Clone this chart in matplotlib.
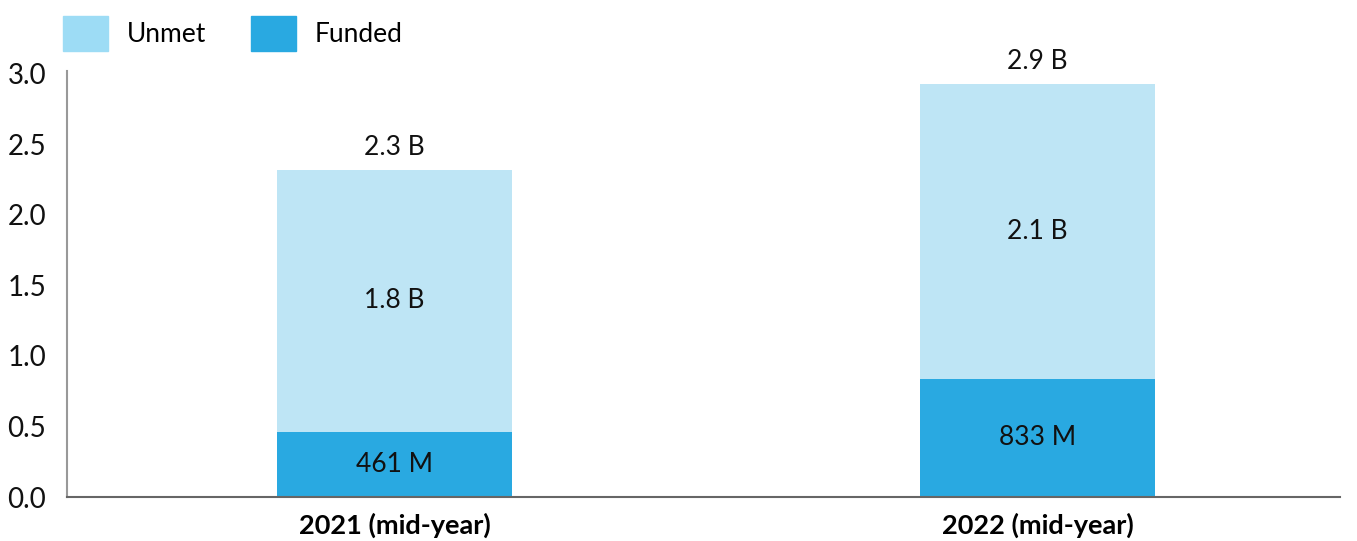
import matplotlib.pyplot as plt
from matplotlib.patches import Patch

plt.rcParams['font.family'] = ['Lato', 'DejaVu Sans']

years = ['2021 (mid-year)', '2022 (mid-year)']
funded = [0.461, 0.837]
unmet = [1.86, 2.09]
funded_labels = ['461 M', '833 M']
unmet_labels = ['1.8 B', '2.1 B']
total_labels = ['2.3 B', '2.9 B']

c_unmet = '#bee5f5'
c_funded = '#29a9e1'
c_unmet_leg = '#9ddcf5'

fig = plt.figure(figsize=(13.57, 5.41), dpi=100)
ax = fig.add_axes([0.0494, 0.0813, 0.9381, 0.7875])

x = [0, 1]
w = 0.365
ax.bar(x, funded, width=w, color=c_funded, zorder=2)
ax.bar(x, unmet, width=w, bottom=funded, color=c_unmet, zorder=2)

for i in range(len(x)):
    f = funded[i]
    u = unmet[i]
    ax.text(x[i], f / 2, funded_labels[i], ha='center', va='center', fontsize=19, color='#111111')
    ax.text(x[i], f + u / 2, unmet_labels[i], ha='center', va='center', fontsize=19, color='#111111')
    ax.annotate(total_labels[i], (x[i], f + u), xytext=(0, 16), textcoords='offset points',
                ha='center', va='center', fontsize=19, color='#111111')

ax.set_xlim(-0.509, 1.47)
ax.set_ylim(0, 3.02)
ax.set_yticks([0, 0.5, 1.0, 1.5, 2.0, 2.5, 3.0])
ax.set_yticklabels(['0.0', '0.5', '1.0', '1.5', '2.0', '2.5', '3.0'], fontsize=20)
ax.set_xticks(x)
ax.set_xticklabels(years, fontsize=19.5, fontweight='bold')
ax.tick_params(axis='y', length=0, pad=15)
ax.tick_params(axis='x', length=0, pad=11)
for lbl in ax.get_yticklabels():
    lbl.set_color('#111111')

ax.spines['top'].set_visible(False)
ax.spines['right'].set_visible(False)
ax.spines['left'].set_color('#999999')
ax.spines['bottom'].set_color('#666666')
ax.spines['left'].set_linewidth(1.5)
ax.spines['bottom'].set_linewidth(1.5)

handles = [Patch(color=c_unmet_leg, label='Unmet'), Patch(color=c_funded, label='Funded')]
fig.legend(handles=handles, loc='upper left', bbox_to_anchor=(0.035, 1.0), ncol=2,
           frameon=False, fontsize=19, handlelength=1.7, handleheight=1.7,
           handletextpad=0.7, columnspacing=1.7, borderaxespad=0.2)

fig.savefig('out.png', dpi=100)
